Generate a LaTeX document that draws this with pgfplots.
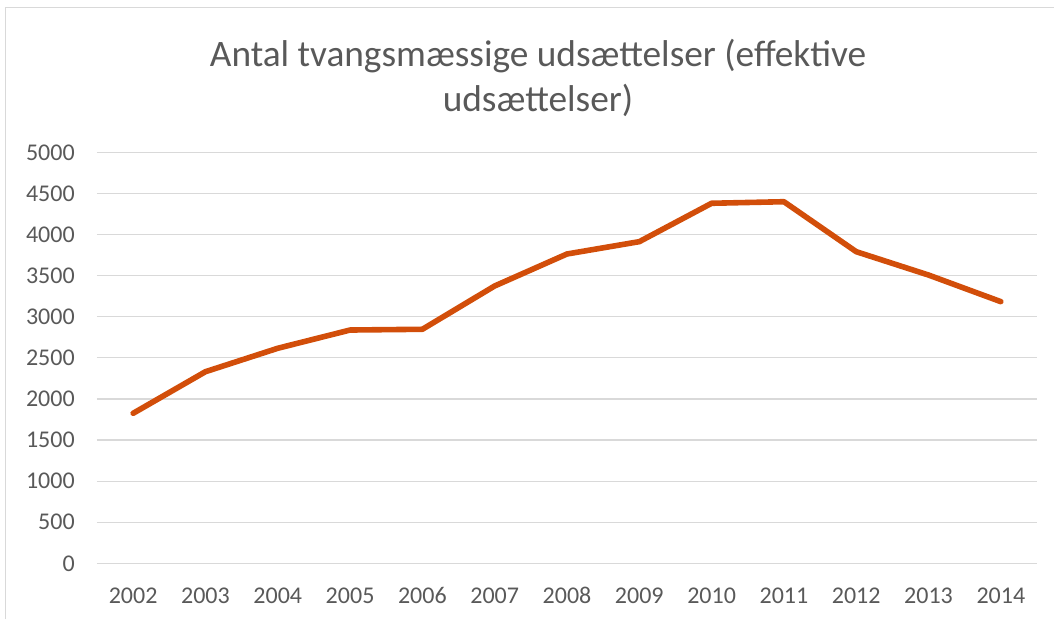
\documentclass[border=0pt]{standalone}
\usepackage{fontspec}
\setmainfont{Carlito}
\usepackage{pgfplots}
\pgfplotsset{compat=1.18}
\definecolor{linec}{RGB}{210,78,10}
\definecolor{gridc}{RGB}{217,217,217}
\definecolor{textc}{RGB}{89,89,89}
\begin{document}
\begin{tikzpicture}[x=0.75pt,y=0.75pt]
\useasboundingbox (0,0) rectangle (1054,619);
\draw[gridc, line width=0.75pt] (5,0) -- (5,611) -- (1054,611);
\node[textc, font=\fontsize{28}{32}\selectfont, anchor=center] at (538,563) {Antal tvangsmæssige udsættelser (effektive};
\node[textc, font=\fontsize{28}{32}\selectfont, anchor=center] at (538,519) {udsættelser)};
\begin{axis}[
  at={(72.75pt,41.775pt)}, anchor=south west,
  scale only axis, width=705pt, height=308.25pt,
  xmin=-0.5, xmax=12.5, ymin=0, ymax=5000,
  xtick={0,...,12},
  xticklabels={2002,2003,2004,2005,2006,2007,2008,2009,2010,2011,2012,2013,2014},
  ytick={0,500,...,5000},
  ymajorgrids, grid style={gridc, line width=0.9pt},
  axis line style={draw=none},
  major tick length=0pt,
  tick label style={textc, font=\fontsize{18}{21}\selectfont},
  yticklabel style={anchor=east, inner sep=0pt, xshift=-16.5pt},
  xticklabel style={anchor=center, inner sep=0pt, yshift=-24pt},
  /pgf/number format/assume math mode=true,
  /pgf/number format/1000 sep={},
  clip=false,
]
\addplot[linec, line width=4.2pt, line join=round, line cap=round] coordinates {
(0,1825) (1,2331) (2,2616) (3,2838) (4,2847) (5,3374) (6,3763) (7,3913) (8,4380) (9,4399) (10,3791) (11,3507) (12,3183)
};
\end{axis}
\end{tikzpicture}
\end{document}
